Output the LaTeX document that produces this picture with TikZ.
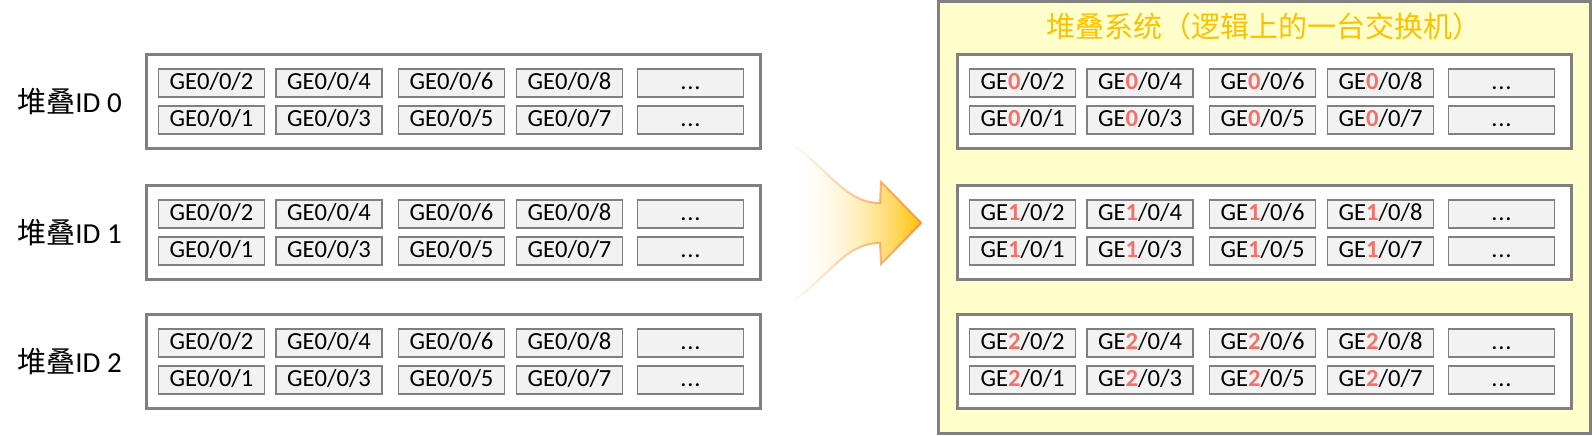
\documentclass[tikz,border=0pt]{standalone}
\usepackage{fontspec}
\setmainfont{Carlito}
\newfontfamily\cjk{Noto Sans CJK SC}
\usetikzlibrary{fadings}
\definecolor{boxgray}{HTML}{808080}
\definecolor{portfill}{HTML}{F2F2F2}
\definecolor{sysfill}{HTML}{FFFFCC}
\definecolor{sysgold}{HTML}{FFC000}
\definecolor{idred}{HTML}{F4716A}
\definecolor{arrowline}{HTML}{F79646}
\tikzfading[name=arrowfade, left color=transparent!100, middle color=transparent!30, right color=transparent!0]
\tikzset{port/.style = {draw=boxgray, fill=portfill, line width=0.75pt,
                        minimum width=53pt, minimum height=14pt, inner sep=0,
                        text height=8pt, text depth=1.8pt,
                        font=\fontsize{12.3}{14}\selectfont}}
\tikzset{chassis/.style = {draw=boxgray, fill=white, line width=1.5pt,
                           minimum width=307pt, minimum height=47pt, inner sep=0}}
\tikzset{stacklabel/.style = {anchor=west, inner sep=0, font=\fontsize{14.5}{17}\selectfont}}
\newcommand{\idnum}[1]{\textcolor{idred}{\bfseries #1}}
\newcommand{\moredots}{.\kern0.4pt.\kern0.4pt.}

\begin{document}
\begin{tikzpicture}[x=0.5pt, y=-0.5pt]
          \useasboundingbox (0,0) rectangle (1592,435);
          \draw [draw=boxgray, fill=sysfill, line width=1.5pt] (938.5,1.5) rectangle (1590.5,433.5);
          \node [text=sysgold, inner sep=0, font=\cjk\fontsize{14.5}{17}\selectfont] (title) at (1264,26) {堆叠系统（逻辑上的一台交换机）};
          \foreach \id/\y in {0/53, 1/184, 2/313} {
            \node [stacklabel] (label\id) at (17,\y+48.5) {{\cjk 堆叠}ID \id};
            \node [chassis] (left\id) at (453.5,\y+48.5) {};
            \node [chassis] (right\id) at (1264.5,\y+48.5) {};
            \foreach \x/\na/\nb in {211.5/2/1, 329/4/3, 451.5/6/5, 569.5/8/7} {
              \node [port] (left\id-\na) at (\x,\y+30) {GE0/0/\na};
              \node [port] (left\id-\nb) at (\x,\y+67) {GE0/0/\nb};
              \node [port] (right\id-\na) at (\x+811,\y+30) {GE\idnum{\id}/0/\na};
              \node [port] (right\id-\nb) at (\x+811,\y+67) {GE\idnum{\id}/0/\nb};
            }
            \node [port] (left\id-more) at (690.5,\y+30) {\moredots};
            \node [port] (left\id-rest) at (690.5,\y+67) {\moredots};
            \node [port] (right\id-more) at (1501.5,\y+30) {\moredots};
            \node [port] (right\id-rest) at (1501.5,\y+67) {\moredots};
          }
          \path [path fading=arrowfade, left color=white, right color=sysgold, draw=arrowline, line width=1pt]
            (790,143) .. controls (830,170) and (845,203) .. (880,203) -- (881,182) -- (921,223)
            -- (881,264) -- (880,243) .. controls (845,243) and (830,276) .. (790,303) -- cycle;
        \end{tikzpicture}
\end{document}
